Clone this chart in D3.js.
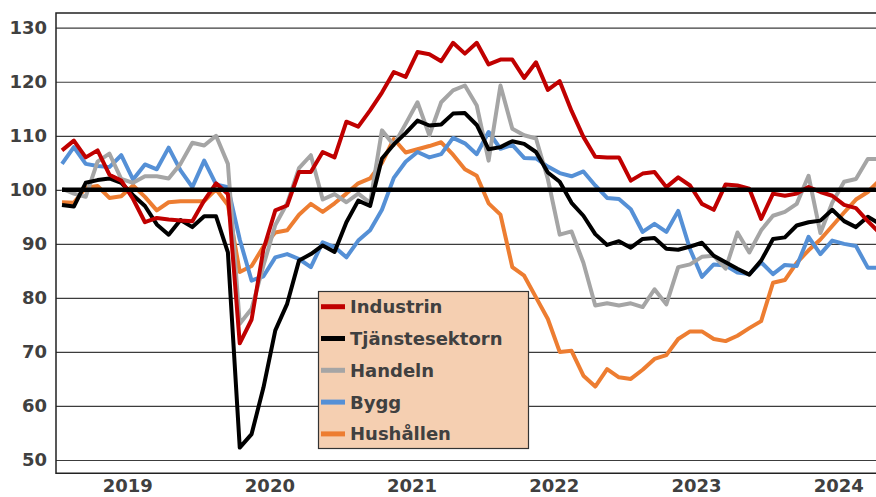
<!DOCTYPE html>
<html>
<head>
<meta charset="utf-8">
<script src="https://cdn.jsdelivr.net/npm/d3@7/dist/d3.min.js"></script>
<style>
  html, body { margin: 0; padding: 0; background: #fff; overflow: hidden; }
  svg { display: block; }
</style>
</head>
<body>
<svg id="chart"></svg>
<script>
// 月度数据：2019年1月 - 2024年10月
const months = d3.timeMonths(new Date(2019, 0, 1), new Date(2024, 10, 1));
const yearLabels = ['2019', '2020', '2021', '2022', '2023', '2024'];
const yTicks = [50, 60, 70, 80, 90, 100, 110, 120, 130];
const baseline = 100;

const industrin = [107.3, 109.1, 106, 107.3, 102.8, 101.7, 98.3, 94, 94.8, 94.5, 94.3, 94.2,
  98, 101.2, 99.2, 71.6, 76, 89, 96.2, 97.1, 103.3, 103.3, 107, 106,
  112.6, 111.7, 114.7, 118, 121.8, 120.9, 125.5, 125.1, 123.8, 127.2, 125.2, 127.2,
  123.2, 124.1, 124.1, 120.7, 123.6, 118.5, 120.1, 114.6, 109.8, 106.1, 106, 106,
  101.7, 103, 103.3, 100.5, 102.3, 100.8, 97.4, 96.3, 101, 100.8, 100.2, 94.6,
  99.3, 98.9, 99.3, 100.5, 99.6, 98.9, 97.2, 96.6, 94.2, 92];

const tjanstesektorn = [97.2, 96.9, 101.3, 101.8, 102.1, 101.3, 99, 97, 93.6, 91.7, 94.4, 93.1,
  95.1, 95.1, 88.4, 52.3, 54.8, 63.4, 74, 78.9, 86.9, 88.1, 89.7, 88.5,
  94, 98, 97, 105.8, 108.4, 110.5, 112.8, 111.9, 112.1, 114.1, 114.2, 112,
  107.5, 107.9, 109, 108.5, 107, 103.2, 101.5, 97.6, 95.2, 91.8, 89.8, 90.5,
  89.3, 90.9, 91.1, 89.1, 88.9, 89.5, 90.2, 87.8, 86.6, 85.4, 84.3, 86.9,
  90.9, 91.2, 93.4, 94, 94.3, 96.3, 94.2, 93.1, 95, 93.7];

const handeln = [100.2, 99.3, 98.7, 105.2, 106.7, 102, 101.3, 102.5, 102.5, 102.1, 104.8, 108.7,
  108.2, 110, 104.8, 75.2, 78, 86, 93.5, 97.5, 104, 106.4, 98.2, 99.2,
  97.7, 99.3, 97.6, 111, 108.3, 112.2, 116.2, 110.1, 116.2, 118.4, 119.3, 115.6,
  105.4, 119.3, 111.3, 110.1, 109.5, 102, 91.7, 92.3, 86.5, 78.6, 79, 78.6,
  79, 78.3, 81.6, 78.8, 85.7, 86.2, 87.6, 87.8, 85.4, 92.1, 88.4, 92.5,
  95.2, 95.9, 97.4, 102.6, 92, 97.6, 101.5, 102, 105.7, 105.7];

const bygg = [104.8, 107.9, 104.8, 104.4, 104.2, 106.4, 101.9, 104.7, 103.8, 107.8, 103.6, 100.5,
  105.4, 101, 100.5, 90.8, 83.2, 84, 87.5, 88.1, 87.2, 85.7, 90.3, 89.4,
  87.5, 90.6, 92.5, 96.3, 102.2, 105.2, 107, 106, 106.6, 109.6, 108.6, 106.6,
  110.7, 107.6, 108.3, 105.9, 105.8, 104.3, 103.1, 102.5, 103.4, 100.8, 98.5, 98.3,
  96.4, 92.2, 93.7, 92.2, 96.1, 89, 83.9, 86.2, 86, 84.7, 84.4, 86.6,
  84.4, 86.1, 85.9, 91.3, 88.1, 90.6, 90, 89.6, 85.6, 85.6];

const hushallen = [97.7, 97.6, 100.4, 100.7, 98.5, 98.8, 100.8, 98.7, 96.2, 97.7, 97.9, 97.9,
  97.9, 100.1, 97.2, 84.8, 85.9, 89.5, 92.1, 92.5, 95.4, 97.4, 95.9, 97.5,
  99.3, 101.2, 102.1, 105, 109.4, 106.9, 107.5, 108.1, 108.8, 106.5, 103.8, 102.6,
  97.5, 95.4, 85.7, 84.1, 80.1, 76.1, 70, 70.2, 65.6, 63.6, 66.8, 65.3,
  65, 66.7, 68.7, 69.4, 72.4, 73.8, 73.8, 72.4, 72, 73, 74.4, 75.7,
  82.8, 83.3, 86.5, 88.8, 90.8, 93.3, 95.8, 98.2, 99.6, 101.8];

const seriesNames = ['Industrin', 'Tjänstesektorn', 'Handeln', 'Bygg', 'Hushållen'];
const seriesValues = [industrin, tjanstesektorn, handeln, bygg, hushallen];
const seriesColors = ['#C00000', '#000000', '#A5A5A5', '#5590D6', '#ED7D31'];

const width = 876;
const height = 497;
const plot = { left: 56, right: 900, top: 13, bottom: 473.3 };
const textColor = '#404040';
const gridColor = '#3c3c3c';
const font = '"DejaVu Sans", Verdana, sans-serif';

const svg = d3.select('#chart')
  .attr('width', width)
  .attr('height', height);

// 比例尺
const x = d3.scaleLinear()
  .domain([0, months.length - 1])
  .range([62, 62 + 11.85 * (months.length - 1)]);

const y = d3.scaleLinear()
  .domain([50, 130])
  .range([460, 27.7]);

// 网格线与纵轴刻度
svg.append('g')
  .attr('transform', `translate(${plot.left},0)`)
  .call(d3.axisLeft(y)
    .tickValues(yTicks)
    .tickSize(-(plot.right - plot.left))
    .tickPadding(9))
  .call(g => g.select('.domain').remove())
  .call(g => g.selectAll('.tick line')
    .attr('stroke', gridColor)
    .attr('stroke-width', 1.2))
  .call(g => g.selectAll('.tick text')
    .attr('fill', textColor)
    .style('font-family', font)
    .style('font-size', '18px')
    .style('font-weight', 'bold'));

// 边框（上、左、下）
svg.append('path')
  .attr('d', `M${plot.right},${plot.top}H${plot.left}V${plot.bottom}H${plot.right}`)
  .attr('fill', 'none')
  .attr('stroke', '#222')
  .attr('stroke-width', 1.5);

// 横轴年份
svg.append('g')
  .attr('transform', `translate(0,${plot.bottom})`)
  .call(d3.axisBottom(x)
    .tickValues(yearLabels.map((d, i) => 5.5 + 12 * i))
    .tickFormat((d, i) => yearLabels[i])
    .tickSize(0)
    .tickPadding(6))
  .call(g => g.select('.domain').remove())
  .call(g => g.selectAll('.tick text')
    .attr('fill', textColor)
    .style('font-family', font)
    .style('font-size', '18px')
    .style('font-weight', 'bold'));

// 折线
const line = d3.line()
  .x((d, i) => x(i))
  .y(d => y(d));

const order = [4, 3, 2, 1, 0];
svg.append('g')
  .selectAll('path.series')
  .data(order)
  .enter()
  .append('path')
  .attr('class', 'series')
  .attr('d', k => line(seriesValues[k]))
  .attr('fill', 'none')
  .attr('stroke', k => seriesColors[k])
  .attr('stroke-width', 4)
  .attr('stroke-linejoin', 'round')
  .attr('stroke-linecap', 'butt');

// 100 基准线
svg.append('line')
  .attr('x1', x(0))
  .attr('x2', x(months.length - 1))
  .attr('y1', y(baseline))
  .attr('y2', y(baseline))
  .attr('stroke', '#000')
  .attr('stroke-width', 4.5);

// 图例
const legend = svg.append('g');
legend.append('rect')
  .attr('x', 318.5)
  .attr('y', 291.5)
  .attr('width', 210)
  .attr('height', 157)
  .attr('fill', '#F5CFB1')
  .attr('stroke', '#333')
  .attr('stroke-width', 1.2);

const rows = legend.selectAll('g.item')
  .data(seriesNames)
  .enter()
  .append('g')
  .attr('class', 'item')
  .attr('transform', (d, i) => `translate(0,${306.7 + i * 31.8})`);

rows.append('line')
  .attr('x1', 321)
  .attr('x2', 345)
  .attr('stroke', (d, i) => seriesColors[i])
  .attr('stroke-width', 5);

rows.append('text')
  .attr('x', 350)
  .attr('dy', '0.36em')
  .attr('fill', textColor)
  .style('font-family', font)
  .style('font-size', '18px')
  .style('font-weight', 'bold')
  .text(d => d);
</script>
</body>
</html>
